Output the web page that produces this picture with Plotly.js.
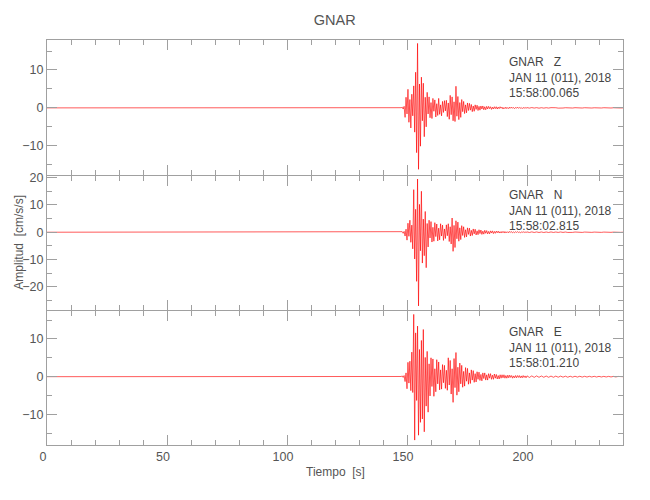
<!DOCTYPE html>
<html>
<head>
<meta charset="utf-8">
<script src="https://cdn.plot.ly/plotly-3.0.1.min.js"></script>
<style>html,body{margin:0;padding:0;background:#fff;}#chart{width:650px;height:500px;}</style>
</head>
<body>
<div id="chart"></div>
<script>
// ---- Data ----
const stationName = "GNAR";
const components = ["Z", "N", "E"];
const dateLabel = "JAN 11 (011), 2018";
const startTimes = ["15:58:00.065", "15:58:02.815", "15:58:01.210"];

// sampling of the traces (seconds)
const preTimes = [0, 50, 100, 147.6];   // quiet part before onset
const strongStart = 148.0;              // dense samples around the event
const strongDt = 0.4;
const tailStart = 200.0;                // coda
const tailDt = 1.0;

// amplitudes [cm/s/s]
const preZ = [0.0, 0.05, -0.05, 0.05];
const preN = [0.0, 0.05, -0.05, 0.05];
const preE = [0.0, 0.05, -0.05, 0.05];

const strongZ = [
  0.2,-0.3,0.4,-2.5,2.8,-1.6,4.9,-3.8,2.2,-5.3,
  3.6,-2.1,5.8,-6.4,9.4,-11.8,17.0,-16.2,6.3,-10.1,
  8.1,-3.4,6.5,-7.6,2.8,-5.0,4.1,-1.6,2.9,-2.6,
  1.4,-2.8,2.5,-0.9,2.1,-2.4,1.1,-2.0,2.5,-1.7,
  0.8,-2.1,1.7,-1.2,1.9,-0.8,2.0,-2.3,1.3,-3.0,
  3.3,-1.8,2.9,-3.4,1.6,-3.6,5.7,-2.2,3.0,-3.1,
  1.4,-2.5,2.2,-1.0,1.7,-1.5,0.8,-1.3,1.3,-0.7,
  1.2,-0.6,0.9,-1.0,0.5,-0.9,0.8,-0.4,0.7,-0.7,
  0.4,-0.6,0.5,-0.3,0.5,-0.5,0.3,-0.5,0.4,-0.3,
  0.4,-0.2,0.3,-0.4,0.2,-0.3,0.3,-0.2,0.3,-0.3,
  0.2,-0.2,0.3,-0.1,0.2,-0.3,0.1,-0.2,0.2,-0.2,
  0.1,-0.2,0.2,-0.1,0.2,-0.1,0.1,-0.2,0.1,-0.1,
  0.2,-0.1,0.1,-0.1,0.1,-0.2,0.1,-0.1,0.1,-0.1
];
const strongN = [
  0.2,-0.4,0.3,-1.4,1.1,-2.9,3.3,-1.5,4.4,-3.7,
  2.6,-6.1,15.6,-9.8,8.4,-18.0,19.5,-27.0,10.2,-6.8,
  15.0,-11.3,4.8,-8.6,7.6,-13.0,3.2,-5.4,4.4,-2.1,
  3.9,-3.6,1.8,-3.3,3.5,-1.6,3.0,-3.2,1.5,-2.8,
  3.1,-1.4,2.6,-3.0,1.2,-2.3,2.7,-1.3,3.1,-3.4,
  2.0,-4.3,5.2,-7.0,2.5,-5.6,4.2,-2.4,3.7,-3.3,
  1.6,-2.7,2.4,-1.2,2.0,-1.9,0.9,-1.7,1.6,-0.8,
  1.5,-1.4,0.7,-1.2,1.2,-0.6,1.1,-1.0,0.5,-0.9,
  0.9,-0.5,0.8,-0.8,0.4,-0.7,0.7,-0.4,0.6,-0.6,
  0.3,-0.6,0.5,-0.3,0.5,-0.5,0.3,-0.4,0.4,-0.2,
  0.4,-0.3,0.2,-0.3,0.3,-0.2,0.3,-0.3,0.2,-0.2,
  0.2,-0.2,0.3,-0.1,0.2,-0.2,0.1,-0.2,0.2,-0.1,
  0.2,-0.1,0.1,-0.2,0.1,-0.1,0.2,-0.1,0.1,-0.1
];
const strongE = [
  0.2,-0.2,0.3,-1.3,1.0,-3.2,3.8,-1.7,4.1,-3.7,
  6.5,-4.2,16.5,-16.8,11.6,-6.3,13.4,-15.5,7.2,-12.1,
  9.6,-11.2,12.5,-14.6,5.1,-7.8,6.7,-9.4,3.4,-5.1,
  5.0,-2.6,4.7,-5.2,2.1,-4.0,4.5,-1.9,3.9,-3.5,
  1.8,-3.3,3.2,-1.6,3.0,-3.1,1.7,-3.6,5.0,-2.2,
  4.3,-4.6,2.1,-6.8,4.8,-2.9,6.4,-4.9,2.5,-4.0,
  3.6,-1.9,3.0,-2.8,1.4,-2.5,2.4,-1.2,2.2,-2.0,
  1.0,-1.8,1.8,-0.9,1.6,-1.5,0.8,-1.4,1.3,-0.7,
  1.2,-1.0,0.6,-1.1,1.0,-0.5,1.0,-0.9,0.5,-0.9,
  0.8,-0.4,0.8,-0.7,0.4,-0.7,0.7,-0.4,0.6,-0.6,
  0.3,-0.6,0.5,-0.4,0.5,-0.3,0.5,-0.4,0.3,-0.4,
  0.4,-0.3,0.4,-0.2,0.3,-0.4,0.2,-0.3,0.3,-0.3,
  0.3,-0.2,0.3,-0.3,0.2,-0.3,0.3,-0.2,0.2,-0.3
];
const tailZ = [
  0.08,-0.06,0.08,-0.05,0.06,-0.08,0.05,-0.06,0.05,-0.05,
  0.06,-0.05,0.04,-0.06,0.05,-0.04,0.04,-0.05,0.04,-0.04,
  0.05,-0.04,0.04,-0.04,0.04,-0.05,0.04,-0.04,0.03,-0.04,
  0.04,-0.03,0.04,-0.03,0.05,-0.03,0.03,-0.04,0.03,-0.03,0.0
];
const tailN = [
  0.12,-0.1,0.12,-0.09,0.1,-0.1,0.09,-0.1,0.08,-0.09,
  0.1,-0.08,0.08,-0.07,0.09,-0.07,0.07,-0.08,0.07,-0.06,
  0.07,-0.06,0.06,-0.07,0.06,-0.05,0.06,-0.05,0.05,-0.06,
  0.05,-0.05,0.05,-0.04,0.05,-0.04,0.04,-0.05,0.04,-0.04,0.0
];
const tailE = [
  0.22,-0.2,0.2,-0.18,0.2,-0.17,0.18,-0.16,0.17,-0.16,
  0.16,-0.15,0.15,-0.14,0.15,-0.13,0.13,-0.14,0.12,-0.12,
  0.12,-0.11,0.11,-0.11,0.1,-0.1,0.1,-0.09,0.1,-0.09,
  0.09,-0.08,0.08,-0.08,0.08,-0.07,0.07,-0.07,0.06,-0.06,0.0
];

// axis ranges per panel (top to bottom)
const yRanges = [[-17.7, 17.9], [-28.5, 20.6], [-18.1, 17.4]];
const xRange = [0, 240];

// ---- Build traces ----
function buildTrace(pre, strong, tail) {
  const x = [], y = [];
  pre.forEach((v, i) => { x.push(preTimes[i]); y.push(v); });
  strong.forEach((v, i) => { x.push(+(strongStart + i * strongDt).toFixed(2)); y.push(v); });
  tail.forEach((v, i) => { x.push(tailStart + i * tailDt); y.push(v); });
  return {x, y};
}
const series = [buildTrace(preZ, strongZ, tailZ), buildTrace(preN, strongN, tailN), buildTrace(preE, strongE, tailE)];

const axisNames = [["x", "y"], ["x2", "y2"], ["x3", "y3"]];
const traces = series.map((s, k) => ({
  type: "scatter", mode: "lines", x: s.x, y: s.y,
  xaxis: axisNames[k][0], yaxis: axisNames[k][1],
  line: {color: "#ff0000", width: 0.65}, hoverinfo: "skip", showlegend: false
}));

const fontFam = "'Liberation Sans', Arial, sans-serif";
const axisColor = "#a0a0a0";
const textColor = "#555555";

// plot area 405 px tall; panels share their boundary line pixel
const H = 405, T = 40;
const domains = [[1 - 135 / H, 1.0], [1 - 270 / H, 1 - 136 / H], [0.0, 1 - 271 / H]];

function xAxis(anchor, labels) {
  return {
    anchor: anchor, range: xRange, showgrid: false, zeroline: false,
    showline: true, linecolor: axisColor, linewidth: 1, mirror: "allticks",
    ticks: "inside", ticklen: 10, tickcolor: axisColor, tickwidth: 1,
    dtick: 50, tick0: 0, showticklabels: labels, ticklabelshift: -4,
    tickfont: {family: fontFam, size: 12.5, color: textColor},
    minor: {dtick: 10, ticks: "inside", ticklen: 5, tickcolor: axisColor, tickwidth: 1, showgrid: false}
  };
}
function yAxis(k) {
  return {
    anchor: axisNames[k][0], domain: domains[k], range: yRanges[k],
    showgrid: false, zeroline: false, showline: true, linecolor: axisColor, linewidth: 1,
    mirror: "allticks", ticks: "inside", ticklen: 10, tickcolor: axisColor, tickwidth: 1,
    dtick: 10, tick0: 0, tickfont: {family: fontFam, size: 12.5, color: textColor},
    minor: {dtick: 5, ticks: "inside", ticklen: 5, tickcolor: axisColor, tickwidth: 1, showgrid: false}
  };
}

// info text block per panel
const panelTopPx = [40, 175, 310];
const annotations = [];
components.forEach((c, k) => {
  const txt = stationName + "&nbsp;&nbsp;&nbsp;" + c + "<br>" + dateLabel + "<br>" + startTimes[k];
  const topPx = panelTopPx[k] + (k === 1 ? 12 : 14);
  annotations.push({
    text: txt, xref: "paper", yref: "paper", x: 0.8, y: 1 - (topPx - T) / H,
    xanchor: "left", yanchor: "top", align: "left", showarrow: false,
    borderpad: 0, font: {family: fontFam, size: 12, color: "#444"}
  });
});
annotations.push({
  text: "Amplitud  [cm/s/s]", xref: "paper", yref: "paper", x: -0.05, y: 0.5,
  xanchor: "center", yanchor: "middle", textangle: -90, showarrow: false,
  font: {family: fontFam, size: 12, color: textColor}
});
annotations.push({
  text: "Tiempo  [s]", xref: "paper", yref: "paper", x: 0.5, y: -0.066,
  xanchor: "center", yanchor: "middle", showarrow: false,
  font: {family: fontFam, size: 12, color: textColor}
});

const layout = {
  width: 650, height: 500,
  margin: {l: 47, r: 27, t: 40, b: 55},
  paper_bgcolor: "#ffffff", plot_bgcolor: "#ffffff",
  title: {text: stationName, x: 0.515, xanchor: "center", y: 0.96, yanchor: "middle",
          font: {family: fontFam, size: 14.5, color: textColor}},
  xaxis: xAxis("y", false),
  xaxis2: xAxis("y2", false),
  xaxis3: xAxis("y3", true),
  yaxis: yAxis(0), yaxis2: yAxis(1), yaxis3: yAxis(2),
  annotations: annotations,
  showlegend: false
};

Plotly.newPlot("chart", traces, layout, {staticPlot: true, displayModeBar: false});
</script>
</body>
</html>
